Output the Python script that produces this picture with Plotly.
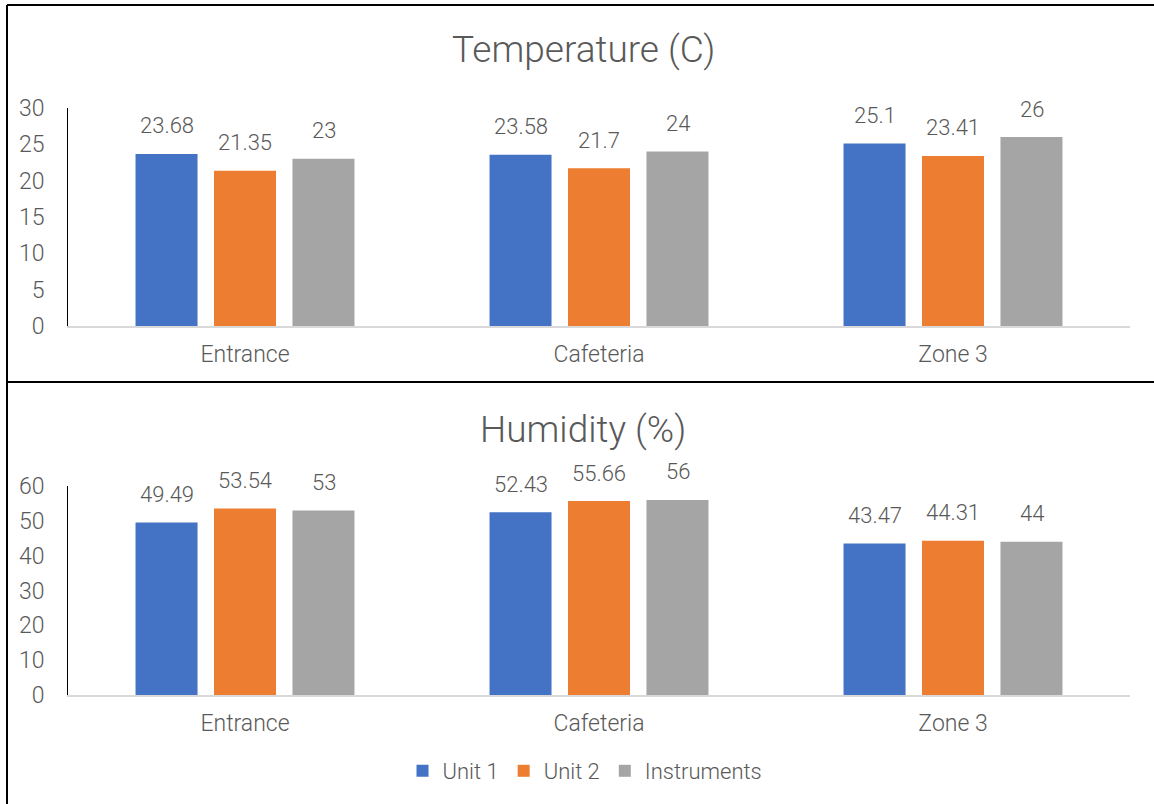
import plotly.graph_objects as go

categories = ["Entrance", "Cafeteria", "Zone 3"]
series_names = ["Unit 1", "Unit 2", "Instruments"]
temperature = {
    "Unit 1": [23.68, 23.58, 25.1],
    "Unit 2": [21.35, 21.7, 23.41],
    "Instruments": [23, 24, 26],
}
humidity = {
    "Unit 1": [49.49, 52.43, 43.47],
    "Unit 2": [53.54, 55.66, 44.31],
    "Instruments": [53, 56, 44],
}
temp_ticks = [0, 5, 10, 15, 20, 25, 30]
hum_ticks = [0, 10, 20, 30, 40, 50, 60]
titles = ["Temperature (C)", "Humidity (%)"]

colors = {"Unit 1": "#4472C4", "Unit 2": "#ED7D31", "Instruments": "#A5A5A5"}
FONT = "Roboto"
WT = 300
TXT = "#595959"
W, H = 1154, 804

fig = go.Figure()
for name in series_names:
    fig.add_trace(go.Bar(x=categories, y=temperature[name], name=name,
                         marker=dict(color=colors[name], line=dict(width=0)),
                         xaxis="x", yaxis="y", legendgroup=name))
for name in series_names:
    fig.add_trace(go.Bar(x=categories, y=humidity[name], name=name,
                         marker=dict(color=colors[name], line=dict(width=0)),
                         xaxis="x2", yaxis="y2", legendgroup=name, showlegend=False))

annotations = []
shift = [-78.5, 0, 78.5]
for data, xr, yr in [(temperature, "x", "y"), (humidity, "x2", "y2")]:
    for i, name in enumerate(series_names):
        for c, v in zip(categories, data[name]):
            annotations.append(dict(x=c, y=v, xref=xr, yref=yr, text=str(v),
                                    showarrow=False, xshift=shift[i], yshift=28,
                                    yanchor="middle",
                                    font=dict(family=FONT, size=22, color=TXT, weight=WT)))
for t, ypix in zip(titles, [50, 430]):
    annotations.append(dict(x=583 / W, y=1 - ypix / H, xref="paper", yref="paper",
                            text=t, showarrow=False, yanchor="middle",
                            font=dict(family=FONT, size=37, color=TXT, weight=WT)))

line_col = "#000000"
shapes = [
    dict(type="line", xref="paper", yref="paper", x0=7 / W, x1=7 / W, y0=-0.05, y1=1 - 5 / H,
         line=dict(color=line_col, width=2)),
    dict(type="line", xref="paper", yref="paper", x0=7 / W, x1=1.05, y0=1 - 5 / H, y1=1 - 5 / H,
         line=dict(color=line_col, width=2)),
    dict(type="line", xref="paper", yref="paper", x0=7 / W, x1=1.05, y0=1 - 382 / H, y1=1 - 382 / H,
         line=dict(color=line_col, width=2)),
]

xdom = [68 / W, 1130 / W]
xaxis_common = dict(domain=xdom, showline=True, linecolor="#D9D9D9", linewidth=1.5,
                    showgrid=False, ticks="", ticklabelstandoff=7, automargin=False,
                    tickfont=dict(family=FONT, size=23, color=TXT, weight=WT), fixedrange=True)
yaxis_common = dict(showline=True, linecolor="#000000", linewidth=1, showgrid=False,
                    zeroline=False, ticks="", ticklabelstandoff=18, automargin=False,
                    tickfont=dict(family=FONT, size=23, color=TXT, weight=WT))

fig.update_layout(
    width=W, height=H, margin=dict(l=0, r=0, t=0, b=0, autoexpand=False),
    paper_bgcolor="white", plot_bgcolor="white",
    barmode="group", bargap=0.335, bargroupgap=0.21,
    xaxis=dict(**xaxis_common, anchor="y"),
    xaxis2=dict(**xaxis_common, anchor="y2"),
    yaxis=dict(**yaxis_common, domain=[1 - 326 / H, 1 - 108 / H], range=[0, 30],
               tickvals=temp_ticks, anchor="x"),
    yaxis2=dict(**yaxis_common, domain=[1 - 695 / H, 1 - 486 / H], range=[0, 60],
                tickvals=hum_ticks, anchor="x2"),
    legend=dict(orientation="h", x=585 / W, xanchor="center", y=1 - 771 / H, yanchor="middle",
                font=dict(family=FONT, size=22, color=TXT, weight=WT), itemwidth=30,
                traceorder="normal"),
    annotations=annotations, shapes=shapes,
)

fig.write_html("out.html")
